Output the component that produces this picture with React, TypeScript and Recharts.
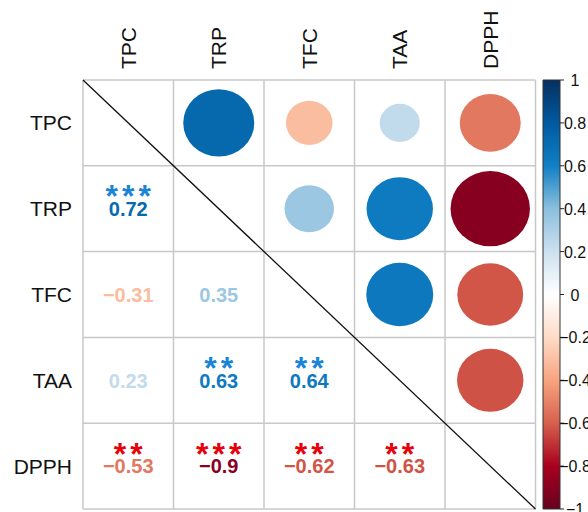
import React from "react";
import {
    ScatterChart, Scatter, XAxis, YAxis, ReferenceLine,
    BarChart, Bar,
} from "recharts";

// variables, in row / column order
const VARS = ["TPC", "TRP", "TFC", "TAA", "DPPH"];

// correlation matrix rows
const TPC_R = [1, 0.72, -0.31, 0.23, -0.53];
const TRP_R = [0.72, 1, 0.35, 0.63, -0.9];
const TFC_R = [-0.31, 0.35, 1, 0.64, -0.62];
const TAA_R = [0.23, 0.63, 0.64, 1, -0.63];
const DPPH_R = [-0.53, -0.9, -0.62, -0.63, 1];

// significance stars per pair
const TPC_SIG = ["", "***", "", "", "**"];
const TRP_SIG = ["***", "", "", "**", "***"];
const TFC_SIG = ["", "", "", "**", "**"];
const TAA_SIG = ["", "**", "**", "", "**"];
const DPPH_SIG = ["**", "***", "**", "**", ""];

const LEGEND_TICKS = [-1, -0.8, -0.6, -0.4, -0.2, 0, 0.2, 0.4, 0.6, 0.8, 1];

const CORR = [TPC_R, TRP_R, TFC_R, TAA_R, DPPH_R];
const SIG = [TPC_SIG, TRP_SIG, TFC_SIG, TAA_SIG, DPPH_SIG];

// blue-white-red palette
const STOPS: [number, string][] = [
    [-1, "#67001F"], [-0.8, "#A8001F"], [-0.6, "#D6604D"], [-0.4, "#F7A480"],
    [-0.2, "#FDDBC7"], [0, "#FFFFFF"], [0.2, "#CCE0EF"], [0.4, "#8BBFDD"],
    [0.6, "#1080C4"], [0.8, "#005AA0"], [1, "#053061"],
];

const hex = (c: string) => [1, 3, 5].map(i => parseInt(c.slice(i, i + 2), 16));

function colorOf(v: number) {
    for (let i = 0; i < STOPS.length - 1; i++) {
        const [a, ca] = STOPS[i];
        const [b, cb] = STOPS[i + 1];
        if (v >= a && v <= b) {
            const t = (v - a) / (b - a);
            const A = hex(ca), B = hex(cb);
            const m = A.map((x, k) => Math.round(x + (B[k] - x) * t));
            return `rgb(${m[0]},${m[1]},${m[2]})`;
        }
    }
    return STOPS[STOPS.length - 1][1];
}

const fmt = (v: number) => (v < 0 ? "\u2212" : "") + String(Math.abs(v));

const FONT = "'Liberation Sans', Arial, sans-serif";

// main chart geometry
const W = 540;
const H = 512;
const MARGIN = { top: 0, right: 4.5, bottom: 3, left: 0 };
const X_AXIS_H = 80;
const Y_AXIS_W = 83;
const CELL_W = (W - MARGIN.left - MARGIN.right - Y_AXIS_W) / VARS.length;
const CELL_H = (H - MARGIN.top - MARGIN.bottom - X_AXIS_H) / VARS.length;

const upper: { x: number; y: number; r: number }[] = [];
const lower: { x: number; y: number; r: number; sig: string }[] = [];
CORR.forEach((row, i) => row.forEach((r, j) => {
    if (j > i) upper.push({ x: j + 1, y: i + 1, r });
    if (j < i) lower.push({ x: j + 1, y: i + 1, r, sig: SIG[i][j] });
}));

const gridVals = [0.5, 1.5, 2.5, 3.5, 4.5, 5.5];

function Circle(props: any) {
    const { cx, cy, payload } = props;
    const k = 0.925 * Math.sqrt(Math.abs(payload.r)) / 2;
    return <ellipse cx={cx} cy={cy} rx={k * CELL_W} ry={k * CELL_H} fill={colorOf(payload.r)} />;
}

function ValueLabel(props: any) {
    const { cx, cy, payload } = props;
    const starCol = payload.r > 0 ? "#1A85D6" : "#E8000A";
    return (
        <g fontFamily={FONT} fontWeight="bold" textAnchor="middle">
            {payload.sig && (
                <text x={cx + 2} y={cy - 1.5} fontSize={32} letterSpacing={4} fill={starCol}>
                    {payload.sig}
                </text>
            )}
            <text x={cx} y={cy + 7.2} fontSize={20} fill={colorOf(payload.r)}>
                {fmt(payload.r)}
            </text>
        </g>
    );
}

function TopTick({ x, payload }: any) {
    return (
        <text transform={`translate(${x + 7.5},69) rotate(-90)`} fontFamily={FONT}
            fontSize={21} fill="#111" textAnchor="start">
            {VARS[payload.value - 1]}
        </text>
    );
}

function LeftTick({ y, payload }: any) {
    return (
        <text x={72} y={y + 7.5} fontFamily={FONT} fontSize={21} fill="#111" textAnchor="end">
            {VARS[payload.value - 1]}
        </text>
    );
}

function LegendTick({ x, y, payload }: any) {
    const v = payload.value;
    return (
        <g>
            <line x1={x} x2={x + 4} y1={y} y2={y} stroke="#222" strokeWidth={1} />
            <text x={x + 15} y={y + 6} fontFamily={FONT} fontSize={16} fill="#111" textAnchor="middle">
                {v === 0 ? "0" : fmt(Number(v.toFixed(1)))}
            </text>
        </g>
    );
}

const legendData = [{ name: "r", range: [-1, 1] }];

export default function App() {
    return (
        <div style={{ position: "absolute", left: 0, top: 0, width: 588, height: 512, background: "#fff" }}>
            <div style={{ position: "absolute", left: 0, top: 0 }}>
                <ScatterChart width={W} height={H} margin={MARGIN}>
                    <XAxis type="number" dataKey="x" orientation="top" height={X_AXIS_H}
                        domain={[0.5, 5.5]} ticks={[1, 2, 3, 4, 5]} axisLine={false}
                        tickLine={false} tick={<TopTick />} allowDataOverflow />
                    <YAxis type="number" dataKey="y" width={Y_AXIS_W} reversed
                        domain={[0.5, 5.5]} ticks={[1, 2, 3, 4, 5]} axisLine={false}
                        tickLine={false} tick={<LeftTick />} allowDataOverflow />
                    {gridVals.map(v => (
                        <ReferenceLine key={"gx" + v} x={v} stroke="#C8C8C8" strokeWidth={1.5} />
                    ))}
                    {gridVals.map(v => (
                        <ReferenceLine key={"gy" + v} y={v} stroke="#C8C8C8" strokeWidth={1.5} />
                    ))}
                    <ReferenceLine segment={[{ x: 0.5, y: 0.5 }, { x: 5.5, y: 5.5 }]}
                        stroke="#111" strokeWidth={1.3} />
                    <Scatter data={upper} shape={<Circle />} isAnimationActive={false} />
                    <Scatter data={lower} shape={<ValueLabel />} isAnimationActive={false} />
                </ScatterChart>
            </div>
            <div style={{ position: "absolute", left: 530, top: 0 }}>
                <BarChart width={58} height={H} data={legendData} barCategoryGap={0}
                    margin={{ top: 80, right: 0, bottom: 3, left: 13 }}>
                    <defs>
                        <linearGradient id="cbar" x1="0" y1="0" x2="0" y2="1">
                            {STOPS.slice().reverse().map(([v, c]) => (
                                <stop key={v} offset={(1 - v) / 2} stopColor={c} />
                            ))}
                        </linearGradient>
                    </defs>
                    <XAxis dataKey="name" hide />
                    <YAxis type="number" orientation="right" width={28} domain={[-1, 1]}
                        ticks={LEGEND_TICKS} axisLine={false} tickLine={false}
                        tickSize={0} tickMargin={0} tick={<LegendTick />} interval={0} />
                    <Bar dataKey="range" fill="url(#cbar)" stroke="#333" strokeWidth={1}
                        isAnimationActive={false} />
                </BarChart>
            </div>
        </div>
    );
}
